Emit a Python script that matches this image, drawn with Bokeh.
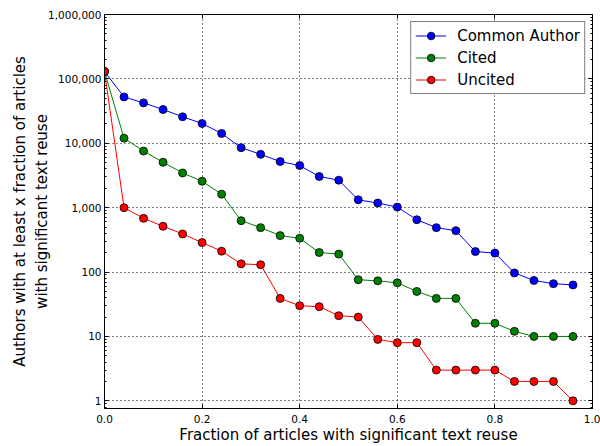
from bokeh.plotting import figure
from bokeh.models import (Range1d, LogAxis, LinearAxis, FixedTicker,
                          NumeralTickFormatter, PrintfTickFormatter,
                          CustomJSTickFormatter, Legend, LegendItem)
from bokeh.embed import file_html
from bokeh.resources import INLINE

# ---- data ----
fraction = [0.00, 0.04, 0.08, 0.12, 0.16, 0.20, 0.24, 0.28, 0.32, 0.36, 0.40, 0.44,
            0.48, 0.52, 0.56, 0.60, 0.64, 0.68, 0.72, 0.76, 0.80, 0.84, 0.88, 0.92, 0.96]
common_author = [130000, 52500, 42400, 33400, 25800, 20300, 14200, 8550, 6730, 5200,
                 4510, 3050, 2670, 1325, 1180, 1020, 650, 489, 439, 208, 197, 97,
                 74, 66, 63]
cited = [130000, 12000, 7570, 5070, 3460, 2570, 1620, 628, 489, 368, 335, 201, 190,
         76, 73, 68, 50, 39, 39, 16, 16, 12, 10, 10, 10]
uncited = [130000, 1000, 683, 514, 391, 287, 211, 134, 130, 39, 30, 29, 21, 20,
           9, 8, 8, 3, 3, 3, 3, 2, 2, 2, 1]

series_names = ["Common Author", "Cited", "Uncited"]
series_colors = ["#0000ff", "#008000", "#ff0000"]

x_ticks = [0.0, 0.2, 0.4, 0.6, 0.8, 1.0]
y_ticks = [1, 10, 100, 1000, 10000, 100000, 1000000]
y_minor = [m * 10.0 ** e for e in range(-1, 6) for m in range(2, 10)]

FONT = "DejaVu Sans"

p = figure(width=600, height=446, output_backend="svg", toolbar_location=None,
           y_axis_type="log", x_range=Range1d(0, 1), y_range=Range1d(0.76, 1e6),
           min_border_left=104, min_border_right=8, min_border_top=14,
           min_border_bottom=35)
p.background_fill_color = "white"
p.border_fill_color = "white"
p.outline_line_color = "black"
p.outline_line_width = 1

# axes
xax = p.xaxis[0]
xax.ticker = FixedTicker(ticks=x_ticks)
xax.formatter = PrintfTickFormatter(format="%.1f")
yax = p.yaxis[0]
yax.ticker = FixedTicker(ticks=y_ticks, minor_ticks=y_minor)
yax.formatter = NumeralTickFormatter(format="0,0")

for ax in (xax, yax):
    ax.major_tick_in = 4
    ax.major_tick_out = 0
    ax.minor_tick_in = 2
    ax.minor_tick_out = 0
    ax.axis_line_color = "black"
    ax.major_tick_line_color = "black"
    ax.minor_tick_line_color = "black"
    ax.major_label_text_font = FONT
    ax.major_label_text_font_size = "10.5px"
    ax.major_label_text_color = "black"
    ax.axis_label_text_font = FONT
    ax.axis_label_text_font_size = "15px"
    ax.axis_label_text_font_style = "normal"
    ax.axis_label_text_color = "black"

xax.minor_tick_line_color = None
xax.major_label_standoff = 6
xax.axis_label = "Fraction of articles with significant text reuse"
xax.axis_label_standoff = 0
yax.major_label_standoff = 3
yax.axis_label = "Authors with at least x fraction of articles\nwith significant text reuse"
yax.axis_label_standoff = -6

blank = CustomJSTickFormatter(code="return ''")
rax = LogAxis(ticker=FixedTicker(ticks=y_ticks, minor_ticks=y_minor), formatter=blank,
              major_tick_in=4, major_tick_out=0, minor_tick_in=2, minor_tick_out=0,
              major_label_standoff=0, major_label_text_font_size="0px",
              axis_label_standoff=0, axis_line_color="black")
tax = LinearAxis(ticker=FixedTicker(ticks=x_ticks), formatter=blank,
                 major_tick_in=4, major_tick_out=0, minor_tick_line_color=None,
                 major_label_standoff=0, major_label_text_font_size="0px",
                 axis_label_standoff=0, axis_line_color="black")
p.add_layout(rax, "right")
p.add_layout(tax, "above")

# grid
for g in (p.xgrid[0], p.ygrid[0]):
    g.grid_line_color = "black"
    g.grid_line_dash = "1 3"
    g.grid_line_width = 1
p.xgrid[0].ticker = FixedTicker(ticks=x_ticks)
p.ygrid[0].ticker = FixedTicker(ticks=y_ticks)

# series
items = []
for name, color, vals in zip(series_names, series_colors,
                             [common_author, cited, uncited]):
    lr = p.line(fraction, vals, line_color=color, line_width=1)
    sr = p.scatter(fraction, vals, size=8, fill_color=color,
                   line_color="black", line_width=0.8)
    items.append(LegendItem(label=name, renderers=[lr, sr]))

legend = Legend(items=items, location="top_right", margin=7, padding=4,
                spacing=3, glyph_width=31, glyph_height=19, label_height=19,
                label_standoff=11, border_line_color="black",
                border_line_width=1, background_fill_color="white",
                background_fill_alpha=1.0, label_text_font=FONT,
                label_text_font_size="15px", label_text_color="black")
p.add_layout(legend)

open("out.html", "w").write(file_html(p, INLINE))
